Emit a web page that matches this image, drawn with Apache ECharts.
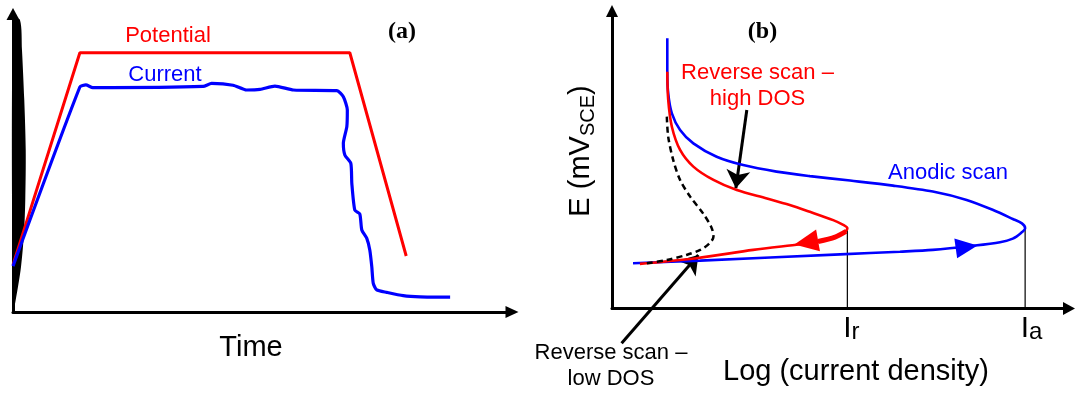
<!DOCTYPE html>
<html><head><meta charset="utf-8">
<script src="https://cdn.jsdelivr.net/npm/echarts@6/dist/echarts.min.js"></script>
<style>html,body{margin:0;padding:0;background:#fff}#c{width:1076px;height:394px}</style>
</head><body><div id="c"></div>
<script>
// ---------- Panel (a): time response (units 0..100 on both axes) ----------
const potentialData = [[0,15.8],[13.4,87.0],[67.5,87.0],[78.8,18.8]];
const currentData = [
  [0,15.4],[13.4,75.5],[14.6,76.2],[16.0,75.3],[38.1,75.7],[39.8,76.7],[44.1,76.1],
  [46.8,74.5],[49.5,74.7],[52.5,75.8],[56.2,74.5],[64.9,74.3],[66.2,72.2],[67.0,67.8],
  [66.9,62.2],[66.2,56.6],[66.5,52.7],[67.7,49.9],[67.9,43.2],[68.5,34.2],[69.5,32.9],
  [69.9,27.5],[70.9,24.7],[71.5,20.8],[71.9,15.2],[72.2,9.6],[72.9,7.4],[74.9,6.6],
  [78.2,5.5],[81.6,5.1],[87.6,5.0]
];
const lensData = [[0,0],[0.54,4.0],[1.6,15.1],[2.2,26.5],[2.46,37.6],[2.55,54.4],[2.26,71.1],[1.8,87.9],[1.4,98],[0,98]];

// ---------- Panel (b): polarization scans (units 0..100 on both axes) ----------
const anodicScan = [
  [4.6,15.2],[19.3,16.1],[49.9,18.2],[63.0,19.1],[70.2,19.7],[79.0,21.1],[84.9,22.3],
  [87.7,23.5],[89.5,25.4],[90.4,27.0],[89.7,28.6],[87.7,30.1],[83.4,33.1],[77.6,36.5],
  [70.2,39.3],[61.5,41.3],[52.1,43.0],[43.3,44.5],[36.0,46.0],[28.7,48.2],[22.9,51.0],
  [17.8,55.5],[14.9,60.0],[13.1,65.6],[12.3,72.3],[12.1,79.6],[12.1,90.8]
];
const reverseHighDOS = [
  [12.1,79.6],[12.3,70.1],[13.1,61.1],[14.9,53.3],[17.8,47.7],[22.2,43.2],[27.3,39.8],
  [33.9,37.0],[38.9,34.8],[43.3,32.5],[48.4,29.7],[50.6,28.1],[51.5,27.0],[50.6,25.2],
  [47.7,23.4],[44.4,22.3],[41.1,21.6],[30.9,19.7],[18.5,16.9],[7.6,15.2],[6.1,15.0]
];
const reverseShaft = [[51.2,25.9],[48.8,24.0],[45.1,22.5]];
const reverseLowDOS = [
  [12.0,64.5],[12.3,57.7],[13.4,49.9],[14.9,43.2],[17.1,37.6],[20.0,31.8],[21.8,27.1],
  [22.2,24.1],[21.2,21.7],[19.3,19.7],[16.3,18.0],[12.0,16.3],[7.6,15.2]
];
const Ir = 51.5, Ia = 90.4, turnE = 27.0;
const xTickNames = ['r','a'];
const redArrowAt = [42.5,22.2];
const blueArrowAt = [77.6,20.7];
const pointerHigh = [[29.5,66.7],[27.1,40.4]];
const pointerLow = [[2.1,-11.7],[18.9,18.0]];

const FONT = 'Liberation Sans, Arial, sans-serif';
const SERIF = 'Liberation Serif, Times New Roman, serif';

function axisBase(gridIndex, sym, symSize) {
  return {
    gridIndex, type:'value', min:0, max:100,
    axisLine:{show:true, onZero:false, symbol:sym, symbolSize:symSize, lineStyle:{color:'#000', width:3}},
    axisTick:{show:false}, axisLabel:{show:false}, splitLine:{show:false}
  };
}

const xB = axisBase(1, ['none','triangle'], [13,12]);
xB.axisLabel = {
  show:true, customValues:[Ir, Ia], margin:4,
  formatter: v => Math.abs(v - Ir) < 1e-6 ? '{ir|I}{sr|' + xTickNames[0] + '}' : '{ia|I}{sa|' + xTickNames[1] + '}',
  rich:{
    ir:{fontSize:30, fontFamily:FONT, color:'#000', lineHeight:32, padding:[0,0,0,8]},
    ia:{fontSize:30, fontFamily:FONT, color:'#000', lineHeight:32, padding:[0,0,0,13]},
    sr:{fontSize:24, fontFamily:FONT, color:'#000', lineHeight:24, verticalAlign:'bottom'},
    sa:{fontSize:24, fontFamily:FONT, color:'#000', lineHeight:24, verticalAlign:'bottom'}
  }
};

const option = {
  animation:false,
  backgroundColor:'#fff',
  grid:[
    {left:13, top:14, width:499, height:298, containLabel:false, outerBoundsMode:'none'},
    {left:612, top:11, width:457, height:297.5, containLabel:false, outerBoundsMode:'none'}
  ],
  xAxis:[ axisBase(0, ['none','triangle'], [12,13]), xB ],
  yAxis:[ axisBase(0, ['none','triangle'], [13,12]), axisBase(1, ['none','triangle'], [12,12]) ],
  series:[
    {type:'custom', xAxisIndex:0, yAxisIndex:0, data:[0], clip:false,
     renderItem:(params, api) => ({type:'polygon', shape:{points:lensData.map(p => api.coord(p)), smooth:0.3}, style:{fill:'#000'}})},
    {type:'line', name:'Potential', xAxisIndex:0, yAxisIndex:0, data:potentialData, showSymbol:false,
     lineStyle:{color:'#ff0000', width:3}},
    {type:'line', name:'Current', xAxisIndex:0, yAxisIndex:0, data:currentData, showSymbol:false, smooth:0.2,
     lineStyle:{color:'#0000ff', width:3.2}},
    {type:'line', xAxisIndex:1, yAxisIndex:1, data:[[Ir,0],[Ir,turnE]], showSymbol:false, lineStyle:{color:'#000', width:1.2}},
    {type:'line', xAxisIndex:1, yAxisIndex:1, data:[[Ia,0],[Ia,turnE]], showSymbol:false, lineStyle:{color:'#000', width:1.2}},
    {type:'line', name:'Anodic scan', xAxisIndex:1, yAxisIndex:1, data:anodicScan, showSymbol:false, smooth:0.3,
     lineStyle:{color:'#0000ff', width:2.6},
     markPoint:{silent:true, label:{show:false}, data:[{coord:blueArrowAt, symbol:'triangle', symbolSize:[20,22], symbolRotate:-82, itemStyle:{color:'#0000ff'}}]}},
    {type:'line', name:'Reverse scan - high DOS', xAxisIndex:1, yAxisIndex:1, data:reverseHighDOS, showSymbol:false, smooth:0.3,
     lineStyle:{color:'#ff0000', width:2.6},
     markPoint:{silent:true, label:{show:false}, data:[{coord:redArrowAt, symbol:'triangle', symbolSize:[22,24], symbolRotate:100, itemStyle:{color:'#ff0000'}}]}},
    {type:'line', xAxisIndex:1, yAxisIndex:1, data:reverseShaft, showSymbol:false, smooth:0.3,
     lineStyle:{color:'#ff0000', width:5}},
    {type:'line', name:'Reverse scan - low DOS', xAxisIndex:1, yAxisIndex:1, data:reverseLowDOS, showSymbol:false, smooth:0.3,
     lineStyle:{color:'#000', width:2.5, type:[6,4]}},
    {type:'lines', coordinateSystem:'cartesian2d', xAxisIndex:1, yAxisIndex:1, clip:false, polyline:false,
     symbol:['none','arrow'], symbolSize:18,
     lineStyle:{color:'#000', width:3, opacity:1},
     data:[{coords:pointerHigh},{coords:pointerLow}]}
  ],
  graphic:[
    {type:'text', x:168, y:36, style:{text:'Potential', fill:'#ff0000', fontSize:22, fontFamily:FONT, align:'center', verticalAlign:'middle'}},
    {type:'text', x:165, y:75, style:{text:'Current', fill:'#0000ff', fontSize:22, fontFamily:FONT, align:'center', verticalAlign:'middle'}},
    {type:'text', x:402, y:32, style:{text:'(a)', fill:'#000', fontSize:24, fontWeight:'bold', fontFamily:SERIF, align:'center', verticalAlign:'middle'}},
    {type:'text', x:251, y:348, style:{text:'Time', fill:'#000', fontSize:29, fontFamily:FONT, align:'center', verticalAlign:'middle'}},
    {type:'text', x:762.5, y:32, style:{text:'(b)', fill:'#000', fontSize:24, fontWeight:'bold', fontFamily:SERIF, align:'center', verticalAlign:'middle'}},
    {type:'text', x:757.5, y:86, style:{text:'Reverse scan \u2013\nhigh DOS', fill:'#ff0000', fontSize:22, lineHeight:26.5, fontFamily:FONT, align:'center', verticalAlign:'middle'}},
    {type:'text', x:948, y:173, style:{text:'Anodic scan', fill:'#0000ff', fontSize:22, fontFamily:FONT, align:'center', verticalAlign:'middle'}},
    {type:'text', x:611, y:366, style:{text:'Reverse scan \u2013\nlow DOS', fill:'#000', fontSize:22, lineHeight:25.7, fontFamily:FONT, align:'center', verticalAlign:'middle'}},
    {type:'text', x:856, y:372, style:{text:'Log (current density)', fill:'#000', fontSize:29, fontFamily:FONT, align:'center', verticalAlign:'middle'}},
    {type:'text', x:581, y:151, rotation:Math.PI/2, style:{
      text:'{m|E (mV}{s|SCE}{m|)}', align:'center', verticalAlign:'middle',
      rich:{m:{fontSize:29, fontFamily:FONT, fill:'#000', lineHeight:34}, s:{fontSize:20, fontFamily:FONT, fill:'#000', lineHeight:20, verticalAlign:'bottom'}}}}
  ]
};
echarts.init(document.getElementById('c'), null, {renderer:'canvas'}).setOption(option);
</script></body></html>
